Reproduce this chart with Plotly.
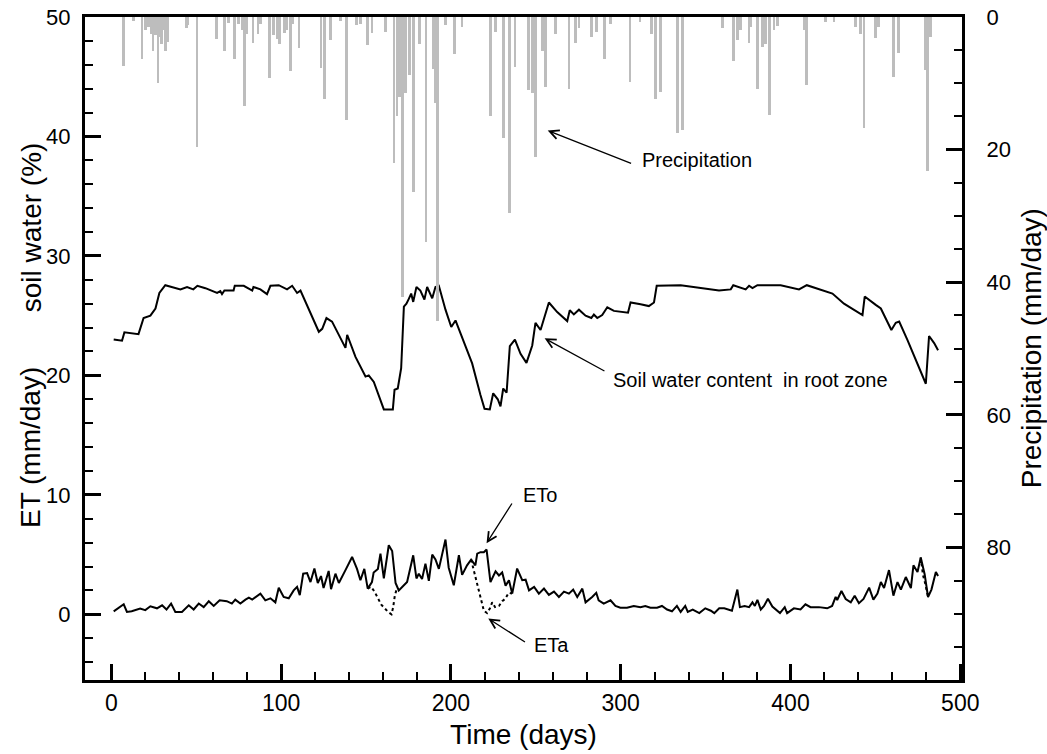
import plotly.graph_objects as go

# ---------------- data ----------------
# Precipitation (mm/day) - day of occurrence and amount
precip_day = [7, 13, 18, 20, 22, 23.4, 24.5, 26, 27.5, 28.5, 29.5, 30.8, 31.8, 33.2,
              44.2, 45, 50.5, 62, 66.6, 69, 72.7, 75, 77, 78.4, 79.4, 83.5, 86.4, 87.8,
              93.3, 95.6, 97.6, 99.2, 102, 103.5, 105.5, 107, 110.6, 123.5, 125.7, 129,
              135, 138.5, 144.4, 146.7, 150.7, 153.6,
              161.5, 166.4, 168.3, 169.9, 171.5, 173.2, 175.8, 178.1, 181.7, 185.4, 189.5,
              190.9, 192.3, 196.8, 202.1, 206.6, 223.3, 226.3, 230.8, 234.5, 237.7, 245.9,
              247.9, 249.8, 253.8, 255.7, 261.6, 269.5, 273.4, 275.4, 282.7, 285.8, 290.5,
              294, 305.4, 311.3, 318, 320.6, 323.5, 333.3,
              336.3, 359.9, 366.3, 368.7, 370.7, 375.6, 376.5, 380.5, 383.4, 385.4, 387.7,
              390.3, 392.3, 408, 409.6, 420.7, 425.6, 438.4, 441.4, 443.3, 450.2, 451.8,
              460.6, 463.6, 479.7, 480.7, 482.3]
precip_mm = [7.4, 0.6, 6.4, 2.0, 1.5, 2.5, 5.1, 2.7, 9.9, 3.0, 4.0, 2.0, 5.2, 3.7,
             1.7, 1.2, 19.6, 3.3, 5.1, 0.9, 6.4, 1.0, 2.0, 13.4, 2.5, 3.9, 2.6, 1.0,
             9.2, 2.7, 3.3, 4.0, 2.4, 2.0, 8.2, 1.0, 4.6, 7.7, 12.4, 3.5,
             0.6, 15.5, 1.2, 1.0, 4.2, 2.4,
             2.3, 22.0, 15.0, 12.0, 42.3, 11.5, 8.8, 26.4, 4.0, 34.0, 7.8,
             13.0, 45.8, 1.2, 5.6, 1.5, 15.0, 2.2, 18.3, 29.5, 7.5, 11.0,
             11.5, 21.1, 5.2, 10.6, 2.5, 10.9, 3.9, 1.7, 3.0, 2.3, 6.4,
             1.0, 9.8, 0.8, 2.5, 12.4, 11.3, 17.5,
             17.0, 1.7, 6.6, 3.5, 2.0, 3.9, 1.5, 10.9, 4.5, 4.0, 14.8,
             2.0, 1.3, 2.0, 10.3, 0.8, 0.8, 1.5, 2.5, 16.7, 3.1, 1.5,
             9.0, 5.5, 8.0, 23.2, 3.0]

# Soil water content in root zone (%)
sw_day = [1.4, 6.3, 7.7, 16, 19, 23, 26, 28.3, 31.8, 40.7, 44.6, 48.3, 50.7, 55.4, 62.3,
          64.2, 65.2, 66.6, 72, 72.7, 78, 83, 83.7, 87.8, 91.7, 93.7, 98.6, 103.5, 106.5,
          109.4, 111.4, 117.3, 122.2, 124.2, 126.7, 130, 137.9, 138.9, 143.8, 149.7, 151.6,
          154.6, 158.5, 160.5, 165.8, 166.8, 168.7, 170.7, 172.3, 173.8, 175.2, 176.6,
          177.8, 179.7, 182, 184.4, 186, 189, 190.9, 192.9, 196.8, 200.2, 202.7, 207.6,
          212.5, 217.4, 219.8, 222.9, 224.9, 227.6, 229.2, 230.8, 232.8, 234.7, 237.7,
          241, 244.5, 247.9, 249.8, 252.8, 257.7, 262.6, 268.5, 270, 272.4, 275.4, 279.3,
          282.7, 284.2, 286.2, 289.1, 292.1, 296, 304.3, 305.8, 311.7, 316.6, 319.6, 321.2,
          335.3, 343.1, 357.9, 364.8, 366.3, 373.6, 375.6, 377.6, 380.5, 394.2, 405, 409.6,
          416.8, 424.7, 431.5, 442.4, 443.7, 446.3, 450.2, 453.2, 459.4, 462, 464, 468.9,
          474.8, 479.7, 481.6, 484.6, 486.9]
sw_val = [23.0, 22.9, 23.6, 23.45, 24.8, 25.0, 25.6, 26.9, 27.55, 27.2, 27.4, 27.2, 27.5, 27.3, 26.9,
          27.05, 26.8, 27.1, 27.1, 27.5, 27.5, 27.1, 27.4, 27.2, 26.8, 27.5, 27.55, 27.2, 27.5,
          26.9, 27.1, 25.2, 23.65, 23.9, 24.8, 24.5, 22.3, 23.4, 21.55, 19.9, 20.0,
          19.45, 17.9, 17.15, 17.15, 18.8, 18.9, 20.6, 25.75, 26.0, 26.4, 26.85,
          26.15, 27.4, 27.1, 26.35, 27.4, 26.45, 27.4, 27.5, 25.5, 24.05, 24.6, 22.8,
          21.0, 18.35, 17.2, 17.15, 18.5, 18.0, 17.4, 18.9, 18.55, 22.45, 23.0,
          21.8, 21.05, 22.5, 24.4, 23.8, 26.1, 25.3, 24.55, 25.45, 25.1, 25.5, 25.0,
          24.8, 25.1, 24.8, 25.05, 25.7, 25.4, 25.25, 26.1, 25.95, 25.8, 26.1, 27.5,
          27.55, 27.4, 27.1, 27.2, 27.55, 27.2, 27.5, 27.3, 27.55, 27.55, 27.2, 27.55,
          27.2, 26.85, 26.0, 25.05, 26.6, 26.3, 25.9, 25.6, 23.8, 24.4, 24.5, 22.95,
          21.0, 19.3, 23.3, 22.7, 22.1]

# Reference evapotranspiration ETo (mm/day)
eto_day = [1.4, 7.3, 9.2, 12, 17, 20, 23, 26.9, 29.9, 32.5, 35.2, 37.7, 41.6, 45.6, 48.5,
           51.5, 54.4, 57.4, 60.3, 63.8, 68, 71, 73, 76, 79, 81, 83, 87.8, 90.7, 93.7, 96.6,
           98.6, 101.5, 104.5, 107.4, 109.4, 111, 113, 115.3, 117.3, 119.6, 121.6, 123.5, 125,
           128, 129.4, 132, 134, 137.9, 141.8, 144.7, 146.7, 149, 151, 153.5, 154.5, 157,
           158.5, 160.5, 163.4, 165.4, 167.4, 169.3, 171.3, 174.2, 177.8, 179.7, 181.1, 183,
           185, 187, 189, 190.9, 192.9, 196.8, 198.7, 201.7, 204.7, 206.6, 209.5, 211.9,
           214.4, 215.5, 217.4, 219.4, 221, 223.3, 226.3, 228.3, 230.2, 232.2, 234.2, 236.1,
           239, 242, 244, 246, 249, 251.8, 254.8, 257.7, 260.7, 263.6, 266.6, 269.5, 272,
           274.4, 277.4, 279.3, 283.2, 285.6, 287, 290, 294, 296.9, 299.8, 303.7, 307.7,
           311.6, 314.5, 317.5, 321.4, 324.3, 327.3, 330.2, 333.1, 335.3, 338, 339.5, 342.4,
           346.3, 349.8, 353.1, 355.1, 358, 361, 365.5, 368.7, 370.2, 373, 375.6, 377.6, 379,
           380.5, 382.5, 384.4, 386.7, 389.3, 393.8, 396.6, 398, 402, 405.9, 408.8, 411.8,
           416.7, 421.6, 424.5, 426.6, 427.5, 430, 432.5, 435.5, 437.8, 440.3, 443, 446.3,
           448.8, 451.2, 453.2, 455.1, 458, 460.6, 463, 465, 467.9, 470.9, 472.4, 474.8,
           476.7, 479, 481, 483, 485.6, 486.9]
eto_val = [0.25, 0.84, 0.2, 0.25, 0.48, 0.35, 0.67, 0.5, 0.75, 0.4, 0.9, 0.2, 0.2, 0.75, 0.4,
           0.9, 0.6, 1.09, 0.7, 1.17, 1.1, 0.9, 1.23, 0.9, 1.23, 1.4, 1.23, 1.73, 1.17, 1.34, 1.0,
           2.23, 1.45, 1.34, 2.0, 2.3, 1.6, 3.4, 3.45, 2.7, 3.83, 2.62, 3.2, 2.2,
           3.63, 2.1, 3.4, 2.62, 3.7, 4.8, 3.8, 2.85, 3.8, 2.15, 2.7, 3.5, 3.8,
           5.08, 3.0, 5.78, 5.3, 2.62, 2.0, 2.3, 2.7, 4.94, 3.0, 3.4, 2.95,
           4.24, 2.8, 5.0, 4.6, 3.8, 6.26, 3.9, 2.43, 4.94, 3.3, 4.1, 4.58,
           4.1, 5.08, 5.2, 5.2, 5.42, 2.7, 3.6, 3.25, 3.5, 2.4, 2.85, 1.73,
           3.83, 2.85, 2.9, 2.0, 2.3, 1.73, 2.15, 1.62, 1.9, 1.45, 1.9, 1.73, 2.07,
           1.45, 2.15, 1.0, 1.45, 1.8, 1.17, 0.9, 1.17, 0.7, 0.55, 0.55, 0.7,
           0.6, 0.7, 0.55, 0.55, 0.7, 0.4, 0.25, 0.7, 0.2, 0.7, 0.2, 0.4,
           0.1, 0.5, 0.3, 0.1, 0.5, 0.5, 0.3, 2.07, 0.6, 0.7, 0.6, 1.0, 0.7,
           1.2, 0.4, 0.7, 1.3, 0.65, 0.1, 0.6, 0.1, 0.5, 0.4, 0.84, 0.6,
           0.6, 0.5, 0.7, 1.45, 1.2, 1.95, 1.28, 1.0, 1.56, 0.93, 1.28, 2.23,
           1.23, 1.73, 2.7, 2.2, 3.7, 1.56, 2.7, 2.07, 3.12, 2.2, 4.1, 3.54,
           4.75, 3.36, 1.45, 2.07, 3.54, 3.2]

# Actual evapotranspiration ETa (mm/day) where it departs from ETo
eta_day1 = [151, 153, 155, 157, 159, 161, 163, 165, 166, 167, 168.3]
eta_val1 = [2.15, 2.3, 1.9, 1.3, 0.8, 0.5, 0.2, 0.0, 0.6, 1.6, 2.2]
eta_day2 = [211.9, 213.5, 215.5, 217.4, 219.4, 221.3, 223, 224.3, 226, 228.3, 230.2, 232, 234, 236.1]
eta_val2 = [4.58, 3.7, 2.7, 1.4, 0.3, 0.1, 0.5, 1.0, 0.6, 0.7, 1.1, 1.3, 1.8, 1.73]
eta_day3 = [476.7, 478, 479.3, 481]
eta_val3 = [4.75, 3.3, 2.6, 1.45]

x_ticks = [0, 100, 200, 300, 400, 500]
left_ticks = [0, 10, 20, 30, 40, 50]
right_ticks = [0, 20, 40, 60, 80]

# ---------------- figure ----------------
FONT = "Liberation Sans, Arial, Helvetica, sans-serif"
fig = go.Figure()

fig.add_trace(go.Bar(x=precip_day, y=precip_mm, yaxis="y2", width=1.6,
                     marker=dict(color="#bdbdbd", line=dict(width=0)), showlegend=False))

for dd, vv in [(eta_day1, eta_val1), (eta_day2, eta_val2), (eta_day3, eta_val3)]:
    fig.add_trace(go.Scatter(x=dd, y=vv, mode="lines",
                             line=dict(color="black", width=2, dash="dot"), showlegend=False))

fig.add_trace(go.Scatter(x=eto_day, y=eto_val, mode="lines",
                         line=dict(color="black", width=2), showlegend=False))
fig.add_trace(go.Scatter(x=sw_day, y=sw_val, mode="lines",
                         line=dict(color="black", width=2), showlegend=False))

axis_common = dict(ticks="inside", showline=True, linecolor="black", linewidth=3,
                   tickcolor="black", showgrid=False, zeroline=False, automargin=False,
                   ticklabeloverflow="allow")

# plot frame at x 85..962 and y 17..680 of the 1047x754 window
fig.update_layout(
    width=1047, height=754,
    margin=dict(l=85, r=85, t=17, b=74, autoexpand=False),
    paper_bgcolor="white", plot_bgcolor="white",
    bargap=0,
    font=dict(family=FONT, color="black"),
    xaxis=dict(range=[-15.5, 501], tickvals=x_ticks, ticklen=16, tickwidth=2.5,
               minor=dict(dtick=20, tick0=0, ticklen=8, tickwidth=1.5, ticks="inside", tickcolor="black"),
               mirror=True, tickfont=dict(size=23),
               title=dict(text="Time (days)", font=dict(size=28), standoff=10),
               **axis_common),
    yaxis=dict(range=[-5.5, 50], tickvals=left_ticks, ticklen=16, tickwidth=2.5,
               minor=dict(dtick=2, tick0=0, ticklen=8, tickwidth=1.5, ticks="inside", tickcolor="black"),
               tickfont=dict(size=22), ticklabelstandoff=7, **axis_common),
    yaxis2=dict(range=[100, 0], overlaying="y", side="right", tickvals=right_ticks,
                ticklen=16, tickwidth=2.5,
                minor=dict(dtick=5, tick0=0, ticklen=8, tickwidth=1.5, ticks="inside", tickcolor="black"),
                tickfont=dict(size=22), ticklabelstandoff=17, **axis_common),
)

annotations = [
    # axis titles
    dict(text="soil water (%)", xref="paper", yref="paper", x=-0.0615, y=0.683, textangle=-90,
         showarrow=False, font=dict(size=28), xanchor="center", yanchor="middle"),
    dict(text="ET (mm/day)", xref="paper", yref="paper", x=-0.0615, y=0.35, textangle=-90,
         showarrow=False, font=dict(size=28), xanchor="center", yanchor="middle"),
    dict(text="Precipitation (mm/day)", xref="paper", yref="paper", x=1.0795, y=0.5, textangle=-90,
         showarrow=False, font=dict(size=28), xanchor="center", yanchor="middle"),
    # labels
    dict(text="Precipitation", x=311.5, y=38.0, xref="x", yref="y", showarrow=False,
         xanchor="left", yanchor="middle", font=dict(size=20)),
    dict(text="Soil water content  in root zone", x=294.5, y=19.6, xref="x", yref="y", showarrow=False,
         xanchor="left", yanchor="middle", font=dict(size=20)),
    dict(text="ETo", x=241, y=10.0, xref="x", yref="y", showarrow=False,
         xanchor="left", yanchor="middle", font=dict(size=20)),
    dict(text="ETa", x=247.5, y=-2.6, xref="x", yref="y", showarrow=False,
         xanchor="left", yanchor="middle", font=dict(size=20)),
]
arrows = [
    ((257, 40.5), (307, 37.7)),
    ((255.2, 23.1), (291.3, 20.3)),
    ((221, 5.95), (236.5, 9.4)),
    ((222, -0.35), (244.5, -2.4)),
]
for (hx, hy), (tx, ty) in arrows:
    annotations.append(dict(x=hx, y=hy, ax=tx, ay=ty, xref="x", yref="y", axref="x", ayref="y",
                            text="", showarrow=True, arrowhead=5, arrowsize=1.4, arrowwidth=1.3,
                            arrowcolor="black"))
fig.update_layout(annotations=annotations)

# remove the default 8 px page margin so the figure fills the window exactly
fig.write_html("out.html", config={"displayModeBar": False},
               post_script="document.body.style.margin='0px';")
